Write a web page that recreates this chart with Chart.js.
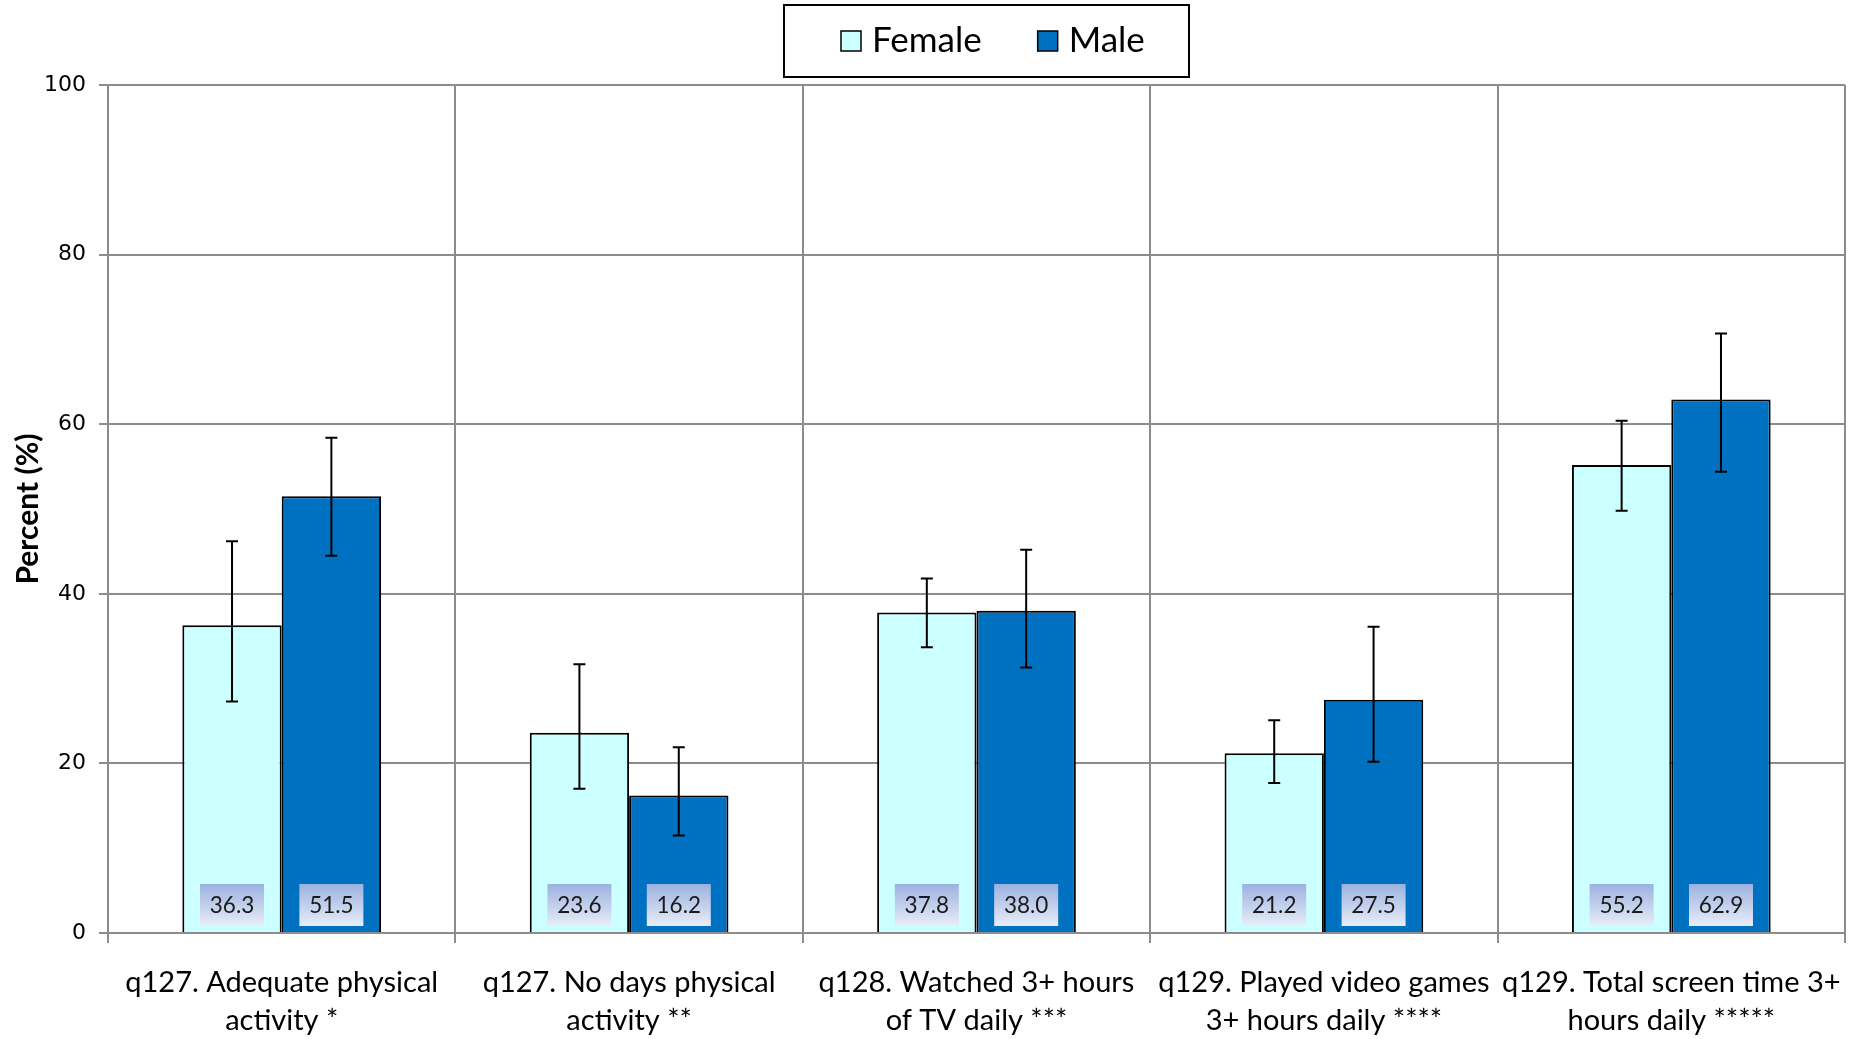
<!DOCTYPE html>
<html>
<head>
<meta charset="utf-8">
<script src="https://cdn.jsdelivr.net/npm/chart.js@4.4.1/dist/chart.umd.min.js"></script>
<style>
  html, body { margin: 0; padding: 0; background: #ffffff; }
  #wrap { width: 1864px; height: 1039px; position: relative; }
</style>
</head>
<body>
<div id="wrap"><canvas id="c" width="1864" height="1039"></canvas></div>
<script>
const categories = [
  ['q127. Adequate physical', 'activity *'],
  ['q127. No days physical', 'activity **'],
  ['q128. Watched 3+ hours', 'of TV daily ***'],
  ['q129. Played video games', '3+ hours daily ****'],
  ['q129. Total screen time 3+', 'hours daily *****']
];
const seriesNames = ['Female', 'Male'];
const femaleValues = [36.3, 23.6, 37.8, 21.2, 55.2];
const maleValues = [51.5, 16.2, 38.0, 27.5, 62.9];
const femaleLow = [27.3, 17.0, 33.7, 17.7, 49.8];
const femaleHigh = [46.2, 31.7, 41.8, 25.1, 60.4];
const maleLow = [44.5, 11.5, 31.3, 20.2, 54.4];
const maleHigh = [58.4, 21.9, 45.2, 36.1, 70.7];
const yTicks = [0, 20, 40, 60, 80, 100];

const GRID = '#8c8c8c';
const FEMALE_COLOR = '#CCFFFF';
const MALE_COLOR = '#0070C0';

const errorBarPlugin = {
  id: 'errorBars',
  afterDatasetsDraw(chart) {
    const ctx = chart.ctx;
    const y = chart.scales.y;
    const lows = [femaleLow, maleLow];
    const highs = [femaleHigh, maleHigh];
    ctx.save();
    ctx.strokeStyle = '#000000';
    ctx.lineWidth = 2;
    chart.data.datasets.forEach((ds, di) => {
      const meta = chart.getDatasetMeta(di);
      meta.data.forEach((bar, i) => {
        const x = bar.x;
        const yl = y.getPixelForValue(lows[di][i]);
        const yh = y.getPixelForValue(highs[di][i]);
        ctx.beginPath();
        ctx.moveTo(x, yl); ctx.lineTo(x, yh);
        ctx.moveTo(x - 6, yl); ctx.lineTo(x + 6, yl);
        ctx.moveTo(x - 6, yh); ctx.lineTo(x + 6, yh);
        ctx.stroke();
      });
    });
    ctx.restore();
  }
};

const valueLabelPlugin = {
  id: 'valueLabels',
  afterDatasetsDraw(chart) {
    const ctx = chart.ctx;
    const y0 = chart.scales.y.getPixelForValue(0);
    ctx.save();
    chart.data.datasets.forEach((ds, di) => {
      const meta = chart.getDatasetMeta(di);
      meta.data.forEach((bar, i) => {
        const w = 64, h = 42;
        const bx = bar.x - w / 2;
        const by = y0 - 7 - h;
        const g = ctx.createLinearGradient(0, by, 0, by + h);
        g.addColorStop(0, '#9BB1DF');
        g.addColorStop(1, '#E8EDF8');
        ctx.fillStyle = g;
        ctx.fillRect(bx, by, w, h);
        ctx.fillStyle = '#1a1a1a';
        ctx.font = '22.5px Lato';
        ctx.textAlign = 'center';
        ctx.textBaseline = 'middle';
        ctx.fillText(ds.data[i].toFixed(1), bar.x, by + h / 2 + 1);
      });
    });
    ctx.restore();
  }
};

const legendPlugin = {
  id: 'boxLegend',
  afterDraw(chart) {
    const ctx = chart.ctx;
    const ca = chart.chartArea;
    const cx = (ca.left + ca.right) / 2 + 10;
    const bw = 405, bh = 72;
    const bx = cx - bw / 2, by = 5;
    ctx.save();
    ctx.fillStyle = '#ffffff';
    ctx.fillRect(bx, by, bw, bh);
    ctx.strokeStyle = '#000000';
    ctx.lineWidth = 2;
    ctx.strokeRect(bx, by, bw, bh);
    ctx.font = '35px Lato';
    ctx.textBaseline = 'alphabetic';
    ctx.textAlign = 'left';
    let x = bx + 57;
    const colors = [FEMALE_COLOR, MALE_COLOR];
    chart.data.datasets.forEach((ds, di) => {
      ctx.fillStyle = colors[di];
      ctx.fillRect(x, by + 26, 20, 20);
      ctx.lineWidth = 1.5;
      ctx.strokeStyle = '#000';
      ctx.strokeRect(x, by + 26, 20, 20);
      ctx.fillStyle = '#000';
      ctx.fillText(ds.label, x + 31, by + 47);
      x += 31 + ctx.measureText(ds.label).width + 56;
    });
    ctx.restore();
  }
};

new Chart(document.getElementById('c'), {
  type: 'bar',
  data: {
    labels: categories,
    datasets: [
      { label: seriesNames[0], data: femaleValues, backgroundColor: FEMALE_COLOR, borderColor: '#000000', borderWidth: 2 },
      { label: seriesNames[1], data: maleValues, backgroundColor: MALE_COLOR, borderColor: '#000000', borderWidth: 2 }
    ]
  },
  options: {
    responsive: false,
    animation: false,
    devicePixelRatio: 1,
    layout: { padding: { top: 85, right: 19, left: 10, bottom: 0 } },
    plugins: {
      legend: { display: false },
      tooltip: { enabled: false }
    },
    datasets: { bar: { categoryPercentage: 0.572, barPercentage: 1.0 } },
    scales: {
      x: {
        offset: true,
        grid: { display: true, offset: true, color: GRID, lineWidth: 2, tickLength: 10, drawOnChartArea: true },
        border: { display: true, color: GRID, width: 2 },
        ticks: { color: '#000000', font: { family: 'Lato', size: 29, lineHeight: 1.33 }, padding: 20, maxRotation: 0, autoSkip: false },
        afterFit(scale) { scale.height = 106; }
      },
      y: {
        min: 0, max: 100,
        afterBuildTicks(scale) { scale.ticks = yTicks.map(v => ({ value: v })); },
        grid: { color: GRID, lineWidth: 2, tickLength: 9 },
        border: { display: true, color: GRID, width: 2 },
        ticks: { color: '#000000', font: { family: 'DejaVu Sans', size: 22 }, padding: 13 },
        title: { display: true, text: 'Percent (%)', color: '#000000', font: { family: 'Lato', size: 30, weight: 'bold' }, padding: { top: 0, bottom: 0 } },
        afterFit(scale) { scale.width = 98; }
      }
    }
  },
  plugins: [errorBarPlugin, valueLabelPlugin, legendPlugin]
});
</script>
</body>
</html>
